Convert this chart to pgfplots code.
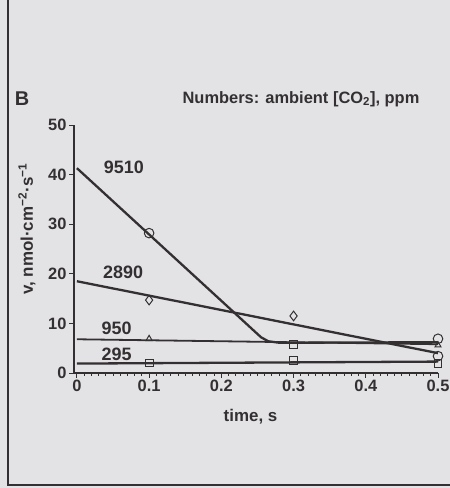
\documentclass[border=0pt]{standalone}
\usepackage{fontspec}
\setmainfont{Liberation Sans}
\usepackage{pgfplots}
\pgfplotsset{compat=1.18}
\definecolor{paper}{HTML}{E3E3E6}
\definecolor{ink}{HTML}{343031}
\begin{document}
\begin{tikzpicture}[x=1bp,y=1bp]
\fill[paper] (0,0) rectangle (450,488);
\useasboundingbox (0,0) rectangle (450,488);
\draw[ink, line width=1.8bp] (8,488) -- (8,3) -- (450,3);
\node[font=\fontsize{20}{20}\bfseries, text=ink] at (22,389) {B};
\node[font=\fontsize{16.5}{17}\bfseries, text=ink] at (301,389) {Numbers: ambient [CO\textsubscript{2}], ppm};
\begin{axis}[at={(74bp,115bp)}, anchor=south west, scale only axis,
  width=364bp, height=248bp,
  xmin=-0.004, xmax=0.5, ymin=0, ymax=50,
  axis lines=left, axis line style={ink, line width=1.1bp, -},
  xtick={0,0.1,0.2,0.3,0.4,0.5}, xticklabels={0,0.1,0.2,0.3,0.4,0.5},
  ytick={0,10,20,30,40,50}, yticklabels={0,10,20,30,40,50},
  minor x tick num=9,
  tick align=outside, major tick length=5bp, minor tick length=3bp,
  tick style={ink, line width=0.9bp},
  ticklabel style={font=\fontsize{16.5}{17}\bfseries, text=ink},
  xticklabel style={yshift=1bp},
  yticklabel style={xshift=1bp},
  xlabel={time, s},
  ylabel={v, nmol·cm\textsuperscript{−2}·s\textsuperscript{−1}},
  label style={font=\fontsize{17}{17}\bfseries, text=ink},
  xlabel style={at={(axis description cs:0.485,0)}, anchor=center, yshift=-44bp},
  ylabel style={at={(axis description cs:-0.129,0.58)}, anchor=center},
  clip=false]
% fitted lines
\addplot[ink, line width=2.3bp] coordinates {(0,41.3) (0.255,7.2) (0.265,6.4) (0.28,6.1) (0.5,6.2)};
\addplot[ink, line width=2.3bp] coordinates {(0,18.5) (0.5,4.0)};
\addplot[ink, line width=1.8bp] coordinates {(0,6.8) (0.5,5.8)};
\addplot[ink, line width=2.3bp] coordinates {(0,1.9) (0.5,2.3)};
% measured points
\addplot[ink, only marks, mark=o, mark size=4.8bp, mark options={line width=1bp}] coordinates {(0.1,28.2) (0.5,6.9) (0.5,3.4)};
\addplot[ink, only marks, mark=diamond, mark size=4.8bp, mark options={line width=1bp}] coordinates {(0.1,14.7) (0.3,11.5)};
\addplot[ink, only marks, mark=triangle, mark size=3.5bp, mark options={line width=1bp}] coordinates {(0.1,6.9) (0.5,5.6)};
\addplot[ink, only marks, mark=square, mark size=3.9bp, mark options={line width=1bp}] coordinates {(0.1,2.0) (0.3,2.6) (0.3,5.7) (0.5,1.9)};
% series labels
\node[font=\fontsize{18}{18}\bfseries, text=ink] at (axis cs:0.065,41.4) {9510};
\node[font=\fontsize{18}{18}\bfseries, text=ink] at (axis cs:0.064,20.3) {2890};
\node[font=\fontsize{18}{18}\bfseries, text=ink] at (axis cs:0.055,9.0) {950};
\node[font=\fontsize{18}{18}\bfseries, text=ink] at (axis cs:0.055,3.8) {295};
\end{axis}
\end{tikzpicture}
\end{document}
